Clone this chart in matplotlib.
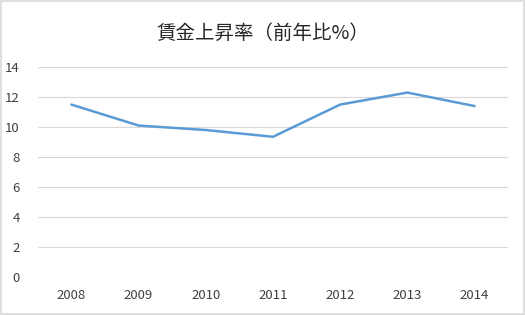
import matplotlib.pyplot as plt
from matplotlib.patches import Rectangle

plt.rcParams['font.family'] = ['Noto Sans CJK JP', 'DejaVu Sans']

years = ['2008', '2009', '2010', '2011', '2012', '2013', '2014']
wage_growth = [11.5, 10.1, 9.8, 9.35, 11.5, 12.3, 11.4]
yticks = [0, 2, 4, 6, 8, 10, 12, 14]

fig = plt.figure(figsize=(5.25, 3.15), dpi=100)
ax = fig.add_axes([0.072, 0.121, 0.896, 0.666])

x = range(len(years))
ax.plot(x, wage_growth, color='#5b9bd5', lw=1.8, solid_capstyle='round')

ax.set_xlim(-0.5, len(years) - 0.5)
ax.set_ylim(0, 14)
ax.set_xticks(list(x))
ax.set_xticklabels(years)
ax.set_yticks(yticks)
ax.grid(axis='y', color='#d9d9d9', lw=0.8)
ax.set_axisbelow(True)
for s in ax.spines.values():
    s.set_visible(False)
ax.tick_params(length=0, labelsize=9.5, colors='#404040')
ax.tick_params(axis='x', pad=9)
ax.tick_params(axis='y', pad=13)

fig.text(0.5, 0.895, '賃金上昇率（前年比%）', ha='center', va='center',
         fontsize=14, color='#262626')

fig.patches.append(Rectangle((0.002, 0.003), 0.996, 0.994, transform=fig.transFigure,
                             fill=False, edgecolor='#d9d9d9', lw=1.2))

fig.savefig('out.png', dpi=100)
